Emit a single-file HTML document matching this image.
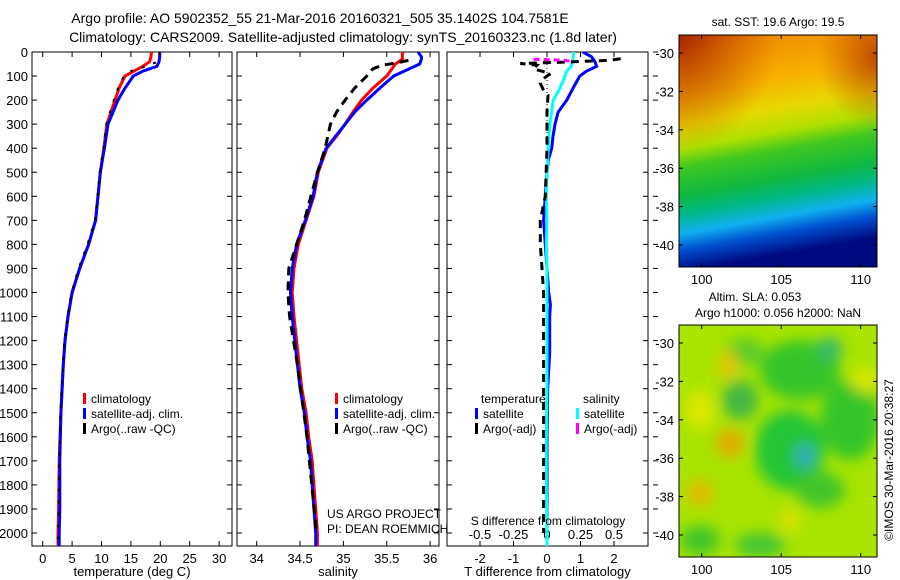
<!DOCTYPE html>
<html><head><meta charset="utf-8"><style>
body{margin:0;background:#fff;}
svg{display:block;font-family:"Liberation Sans",sans-serif;}
</style></head><body>
<svg id="fig" width="900" height="580" viewBox="0 0 900 580">
<defs>
<linearGradient id="sstg" x1="0" y1="0" x2="0.15" y2="1">
<stop offset="0" stop-color="#d86000"/><stop offset="0.08" stop-color="#f09000"/><stop offset="0.25" stop-color="#f8b000"/>
<stop offset="0.38" stop-color="#e8d800"/><stop offset="0.48" stop-color="#b0e000"/><stop offset="0.56" stop-color="#40c820"/>
<stop offset="0.68" stop-color="#10b840"/><stop offset="0.76" stop-color="#00b888"/><stop offset="0.84" stop-color="#10b0f0"/>
<stop offset="0.91" stop-color="#0050d0"/><stop offset="1" stop-color="#000a80"/>
</linearGradient>
<radialGradient id="redcorner" cx="0" cy="0" r="0.5"><stop offset="0" stop-color="#a02000" stop-opacity="0.9"/><stop offset="1" stop-color="#c04000" stop-opacity="0"/></radialGradient>
<radialGradient id="redcorner2" cx="1" cy="0.1" r="0.3"><stop offset="0" stop-color="#b03000" stop-opacity="0.8"/><stop offset="1" stop-color="#c04000" stop-opacity="0"/></radialGradient>
<filter id="blur"><feGaussianBlur stdDeviation="7"/></filter>
<clipPath id="c1"><rect x="32" y="52" width="200" height="494"/></clipPath>
<clipPath id="c2"><rect x="237" y="52" width="202" height="494"/></clipPath>
<clipPath id="c3"><rect x="447" y="52" width="201" height="494"/></clipPath>
<clipPath id="cm2"><rect x="679" y="325" width="198" height="232"/></clipPath>
</defs>
<g font-size="14" fill="#000" text-anchor="middle">
<text x="320" y="23">Argo profile: AO 5902352_55 21-Mar-2016 20160321_505 35.1402S 104.7581E</text>
<text x="343" y="42">Climatology: CARS2009. Satellite-adjusted climatology: synTS_20160323.nc (1.8d later)</text>
</g>
<g id="panels"></g>
<g>
<rect x="679" y="35" width="198" height="232" fill="url(#sstg)"/>
<rect x="679" y="35" width="198" height="232" fill="url(#redcorner)"/>
<rect x="679" y="35" width="198" height="232" fill="url(#redcorner2)"/>
<rect x="679" y="35" width="198" height="232" fill="none" stroke="#000"/>
</g>
<g>
<rect x="679" y="325" width="198" height="232" fill="#a8e400"/>
<g clip-path="url(#cm2)" filter="url(#blur)" opacity="0.85">
<ellipse cx="800" cy="370" rx="40" ry="30" fill="#20c030"/>
<ellipse cx="850" cy="420" rx="30" ry="40" fill="#20c030"/>
<ellipse cx="790" cy="450" rx="35" ry="40" fill="#10c040"/>
<ellipse cx="740" cy="400" rx="18" ry="20" fill="#30b050"/>
<ellipse cx="820" cy="490" rx="25" ry="18" fill="#30c030"/>
<ellipse cx="700" cy="540" rx="20" ry="15" fill="#30c030"/>
<ellipse cx="760" cy="545" rx="25" ry="12" fill="#30c040"/>
<ellipse cx="745" cy="352" rx="20" ry="14" fill="#50c830"/>
<ellipse cx="830" cy="349" rx="12" ry="12" fill="#20b080"/>
<ellipse cx="805" cy="456" rx="10" ry="12" fill="#20a0e0"/>
<ellipse cx="728" cy="365" rx="10" ry="14" fill="#f0c000"/>
<ellipse cx="730" cy="443" rx="14" ry="14" fill="#f0a000"/>
<ellipse cx="700" cy="493" rx="13" ry="13" fill="#f0b000"/>
<ellipse cx="700" cy="410" rx="14" ry="20" fill="#e8e800"/>
<ellipse cx="790" cy="520" rx="10" ry="12" fill="#e8e000"/>
<ellipse cx="865" cy="380" rx="14" ry="12" fill="#e0e800"/>
</g>
<rect x="679" y="325" width="198" height="232" fill="none" stroke="#000"/>
</g>
<g id="mapaxes" font-size="13"></g>
<g font-size="12" fill="#000">
<text x="778" y="26" text-anchor="middle">sat. SST: 19.6 Argo: 19.5</text>
<text x="755" y="301" text-anchor="middle">Altim. SLA: 0.053</text>
<text x="778" y="317" text-anchor="middle">Argo h1000: 0.056 h2000: NaN</text>
<text transform="translate(893,460) rotate(-90)" text-anchor="middle">©IMOS 30-Mar-2016 20:38:27</text>
</g>
<script>
const depthT = [0,20,40,60,80,100,150,200,300,400,500,600,700,800,900,1000,1100,1200,1300,1400,1500,1700,1900,2000,2060];
const tempClim = [18.5,18.4,18.2,17.0,15.5,14.0,13.0,12.3,10.9,10.4,9.8,9.4,9.0,7.8,6.3,5.0,4.3,3.8,3.5,3.3,3.1,2.8,2.7,2.6,2.6];
const tempSat = [19.9,19.9,19.8,19.4,17.0,15.4,14.0,12.8,11.1,10.5,9.8,9.4,9.0,7.8,6.3,5.0,4.3,3.8,3.5,3.3,3.1,2.9,2.9,2.8,2.8];
const tempArgo = [19.9,19.8,19.6,17.5,15.0,13.8,12.8,12.1,10.8,10.3,9.7,9.3,8.9,7.6,6.1,4.9,4.2,3.7,3.4,3.2,3.0,2.8,2.7,2.6,2.6];
const depthS = [0,20,30,50,75,100,150,200,250,300,350,400,500,600,700,800,900,1000,1100,1200,1300,1400,1500,1600,1700,1800,1900,2000,2060];
const salClim = [35.68,35.68,35.68,35.6,35.55,35.5,35.34,35.21,35.11,35.02,34.92,34.81,34.71,34.66,34.57,34.48,34.43,34.41,34.43,34.46,34.49,34.52,34.57,34.6,34.64,34.66,34.68,34.7,34.7];
const salSat = [35.86,35.9,35.9,35.88,35.73,35.58,35.42,35.27,35.13,35.02,34.91,34.8,34.7,34.65,34.56,34.46,34.41,34.39,34.41,34.44,34.47,34.5,34.55,34.58,34.62,34.64,34.66,34.68,34.68];
const depthSA = [35,45,55,70,100,150,200,250,300,400,500,700,900,1000,1100,1300,1600,2000];
const salArgo = [35.75,35.62,35.45,35.34,35.27,35.13,35.02,34.92,34.85,34.79,34.7,34.55,34.37,34.36,34.38,34.47,34.58,34.69];
const depthD = [0,20,40,60,80,100,150,200,250,300,350,400,450,500,600,700,800,900,1000,1050,1100,1250,1400,1600,1800,2000,2060];
const tDiffSat = [1.07,1.33,1.43,1.48,1.18,0.98,0.78,0.59,0.33,0.24,0.18,0.14,0.04,0.0,-0.05,-0.1,-0.05,0.0,0.05,0.1,0.08,0.08,0.02,0.0,0.0,0.0,0.0];
const sDiffSat = [0.196,0.196,0.19,0.18,0.147,0.134,0.097,0.047,0.035,0.022,0.015,0.01,0.005,0.0,-0.005,0.0,-0.005,0.0,0.0,0.0,0.0,0.0,0.0,-0.005,-0.005,0.0,0.0];
const depthDA = [28,35,42,48,55,70,90,110,130,160,180,250,400,600,700,800,900,1000,1200,1500,1800,2000];
const tDiffArgo = [2.2,1.8,0.5,-0.8,-0.3,-0.4,0.1,-0.1,-0.2,-0.1,0.03,0.0,0.0,-0.05,-0.2,-0.2,-0.15,-0.1,-0.1,-0.1,-0.1,-0.1];
const depthSArgoDiff = [30,34,38];
const sDiffArgo = [-0.1,0.12,0.17];
const depthTicks = [0,100,200,300,400,500,600,700,800,900,1000,1100,1200,1300,1400,1500,1600,1700,1800,1900,2000];
const tempTicks = [0,5,10,15,20,25,30];
const salTicks = [34,34.5,35,35.5,36];
const tdTicks = [-2,-1,0,1,2];
const sdTicks = [-0.5,-0.25,0,0.25,0.5];
const sdTickLabels = ["-0.5","-0.25","0","0.25","0.5"];
const lonTicks = [100,105,110];
const latTicks = [-30,-32,-34,-36,-38,-40];

const NS='http://www.w3.org/2000/svg';
const PTOP=52, PBOT=546;
const yD = d => PTOP + d*(533-PTOP)/2000;
const xT = v => 42.7 + v*5.88;
const xS = v => 256.7 + (v-34)*86.7;
const xTD = v => 547 + v*33.5;
const xSD = v => 547 + v*134;
const lonX = v => 701.7 + (v-100)*15.9;
const latY = (v,base) => base + (-30 - v)*19.2;
const G = document.getElementById('panels');
function mk(tag, attrs, parent){const e=document.createElementNS(NS,tag);for(const k in attrs)e.setAttribute(k,attrs[k]);(parent||G).appendChild(e);return e;}
function line(xs, ds, xf, color, w, dash, clip, name){
  const pts = xs.map((v,i)=>xf(v).toFixed(1)+','+yD(ds[i]).toFixed(1)).join(' ');
  const e = mk('polyline',{points:pts,fill:'none',stroke:color,'stroke-width':w,'clip-path':'url(#'+clip+')'});
  if(dash) e.setAttribute('stroke-dasharray',dash);
  
  
}
function panel(x0,x1,xf,ticks,labels,clip,title,name){
  const r = mk('rect',{x:x0,y:PTOP,width:x1-x0,height:PBOT-PTOP,fill:'none',stroke:'#000'});
  
  
  ticks.forEach((t,i)=>{
    const x=xf(t);
    mk('line',{x1:x,x2:x,y1:PTOP,y2:PTOP+5,stroke:'#000'});
    mk('line',{x1:x,x2:x,y1:PBOT,y2:PBOT-5,stroke:'#000'});
    if(labels){const tx=mk('text',{x:x,y:PBOT+17,'font-size':13,'text-anchor':'middle'});tx.textContent=labels[i];
      
      }
  });
  depthTicks.forEach(d=>{
    const y=yD(d);
    mk('line',{x1:x0,x2:x0+5,y1:y,y2:y,stroke:'#000'});
    mk('line',{x1:x1,x2:x1-5,y1:y,y2:y,stroke:'#000'});
  });
  const t=mk('text',{x:(x0+x1)/2,y:576,'font-size':13,'text-anchor':'middle'});t.textContent=title;
  
  
}
panel(32,232,xT,tempTicks,tempTicks.map(String),'c1','temperature (deg C)','temperature-panel');
panel(237,439,xS,salTicks,salTicks.map(String),'c2','salinity','salinity-panel');
panel(447,648,xTD,tdTicks,tdTicks.map(String),'c3','T difference from climatology','difference-panel');
depthTicks.forEach(d=>{
  const y=yD(d);
  const t=mk('text',{x:28,y:y+5,'font-size':13,'text-anchor':'end'});t.textContent=String(d);
  
  
  mk('line',{x1:653,x2:658,y1:y,y2:y,stroke:'#000'});
});
sdTicks.forEach((s,i)=>{
  const t=mk('text',{x:xSD(s),y:539,'font-size':13,'text-anchor':'middle'});t.textContent=sdTickLabels[i];
  
  
});
line(tempClim,depthT,xT,'#ff0000',3,null,'c1','temp-climatology-line');
line(tempSat,depthT,xT,'#0000ff',3,null,'c1','temp-satellite-line');
line(tempArgo,depthT,xT,'#000',2,'3,9','c1','temp-argo-line');
line(salClim,depthS,xS,'#ff0000',3,null,'c2','sal-climatology-line');
line(salSat,depthS,xS,'#0000ff',3,null,'c2','sal-satellite-line');
line(salArgo,depthSA,xS,'#000',3,'9,6','c2','sal-argo-line');
const z=mk('line',{x1:xTD(0),x2:xTD(0),y1:PTOP,y2:PBOT,stroke:'#000','stroke-dasharray':'1,3'});


line(tDiffSat,depthD,xTD,'#0000ff',3,null,'c3','t-diff-satellite-line');
line(sDiffSat,depthD,xSD,'#00ffff',3,null,'c3','s-diff-satellite-line');
line(tDiffArgo,depthDA,xTD,'#000',3,'8,6','c3','t-diff-argo-line');
line(sDiffArgo,depthSArgoDiff,xSD,'#ff00ff',3,'6,4','c3','s-diff-argo-line');
function leg(x,y,color,label,name){
  if(color){const m=mk('rect',{x:x-8,y:y-10,width:3,height:11,fill:color});
    
    }
  const t=mk('text',{x:x,y:y,'font-size':12});t.textContent=label;
  
  
}
leg(91,403,'#ff0000','climatology','legend-climatology');
leg(91,418,'#0000ff','satellite-adj. clim.','legend-satellite');
leg(91,433,'#000','Argo(..raw -QC)','legend-argo');
leg(343,403,'#ff0000','climatology','legend2-climatology');
leg(343,418,'#0000ff','satellite-adj. clim.','legend2-satellite');
leg(343,433,'#000','Argo(..raw -QC)','legend2-argo');
leg(481,403,null,'temperature','legend-temperature-heading');
leg(483,418,'#0000ff','satellite','legend-t-satellite');
leg(483,433,'#000','Argo(-adj)','legend-t-argo');
leg(583,403,null,'salinity','legend-salinity-heading');
leg(584,418,'#00ffff','satellite','legend-s-satellite');
leg(584,433,'#ff00ff','Argo(-adj)','legend-s-argo');
const credits=[['US ARGO PROJECT',518],['PI: DEAN ROEMMICH',533]];
credits.forEach(c=>{const t=mk('text',{x:327,y:c[1],'font-size':12});t.textContent=c[0];
  
  });
const sd=mk('text',{x:548,y:525,'font-size':12,'text-anchor':'middle'});sd.textContent='S difference from climatology';


const MA=document.getElementById('mapaxes');
[[35,267],[325,557]].forEach((b)=>{
  const base = b[0] + 18;
  lonTicks.forEach(l=>{
    const x=lonX(l);
    mk('line',{x1:x,x2:x,y1:b[0],y2:b[0]+4,stroke:'#000'},MA);
    mk('line',{x1:x,x2:x,y1:b[1],y2:b[1]-4,stroke:'#000'},MA);
    const t=mk('text',{x:x,y:b[1]+17,'text-anchor':'middle'},MA);t.textContent=String(l);
    
    
  });
  latTicks.forEach(la=>{
    const y=latY(la,base);
    mk('line',{x1:679,x2:683,y1:y,y2:y,stroke:'#000'},MA);
    mk('line',{x1:877,x2:873,y1:y,y2:y,stroke:'#000'},MA);
    const t=mk('text',{x:674,y:y+5,'text-anchor':'end'},MA);t.textContent=String(la);
    
    
  });
});
</script>
</svg>
</body></html>
